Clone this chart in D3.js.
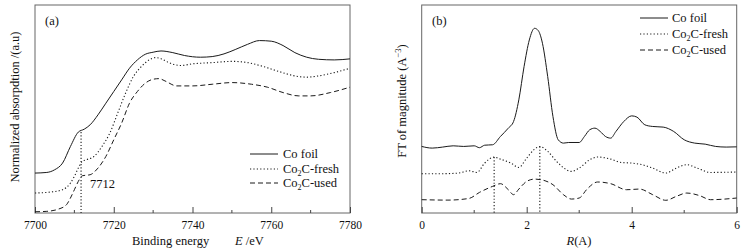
<!DOCTYPE html>
<html><head><meta charset="utf-8">
<script src="https://cdn.jsdelivr.net/npm/d3@7"></script>
<style>body{margin:0;background:#fff}svg{display:block}text{font-family:"Liberation Serif","Times New Roman",serif;fill:#111}</style>
</head><body><svg id="c" width="748" height="251"></svg>
<script>
// Panel (a): XANES
const energyA = [7700,7703,7705,7707,7709,7711,7712.5,7714,7716,7718,7720,7722,7724,7726,7728,7730,7732,7735,7738,7742,7745,7748,7751,7754,7757,7760,7763,7766,7769,7772,7776,7780];
const coFoilA = [19.2,19.5,20.8,24,32,38.9,40.3,42.4,47.2,52.8,58.4,64,69.6,73.6,76.3,77.3,77.9,77.1,75.7,74.9,75.2,76.5,78.7,81.1,82.9,82.6,80.5,77.1,74.9,73.9,73.6,74.1];
const energyFresh = [7700,7704,7707,7709,7710,7711,7712,7713,7715,7717,7719,7721,7723,7725,7727,7729,7730.5,7732,7734,7737,7740,7745,7750,7754,7758,7762,7766,7769,7772,7776,7780];
const freshA = [9.6,10.1,11.2,14.4,17.6,21.6,24.8,25.6,27.2,32,38.4,48,57.6,65.6,70.4,73.6,74.7,74.2,72.3,70.9,71.7,72.3,72.9,72.3,70.4,68,65.9,65.3,65.9,67.5,69.6];
const energyUsed = [7700,7703,7706,7708,7709,7710,7711,7712,7714,7716,7718,7720,7722,7724,7726,7728,7730,7731.5,7733,7736,7740,7745,7750,7755,7759,7763,7767,7770,7775,7780];
const usedA = [0.6,0.8,1.9,4,7.2,11.2,15.2,17.9,18.4,21.6,27.2,35.2,43.2,52.8,58.4,62.4,64.3,64.6,63.5,61.1,61.1,61.9,62.7,61.9,60.5,57.9,56.3,56.3,57.9,60.5];
const ticksA = [7700,7720,7740,7760,7780];
const minorA = [7710,7730,7750,7770];
const edgeA = {e:7711.7, top:38.9, label:"7712"};

// Panel (b): FT-EXAFS
const rFoil = [0,0.2,0.4,0.6,0.8,1.0,1.1,1.2,1.35,1.5,1.65,1.75,1.85,1.95,2.05,2.15,2.22,2.3,2.4,2.5,2.6,2.7,2.8,3.0,3.1,3.2,3.3,3.4,3.5,3.6,3.7,3.85,4.0,4.1,4.25,4.4,4.6,4.8,5.0,5.2,5.4,5.6,5.8,6.0];
const coFoilB = [32,31.2,31.7,32.3,32,32.3,31.4,32.6,32.8,36.8,40.8,44,54.4,70.4,83.2,88.8,87.7,81.6,65.6,46.4,35.2,33.6,33.9,33.9,36.8,40,40.8,39.2,36.8,36,39.2,44,46.7,46.1,42.4,41.6,41.3,39.2,35.2,33.6,33.1,32,31.7,31.8];
const rFresh = [0,0.4,0.7,0.9,1.05,1.2,1.38,1.5,1.7,1.85,2.0,2.15,2.25,2.4,2.6,2.85,3.0,3.2,3.35,3.6,3.8,4.0,4.2,4.4,4.65,4.85,5.05,5.25,5.5,6.0];
const freshB = [18.9,18.9,19.2,20.3,19.5,24,26.9,25.9,24,21.9,26.4,30.7,32,29.6,24,20,21.6,25.6,26.9,25.9,24.3,24,23.2,21.6,19.2,21.6,23.2,21.6,19.5,19.7];
const rUsed = [0,0.5,0.9,1.1,1.35,1.5,1.65,1.75,1.85,2.0,2.15,2.35,2.5,2.7,2.85,3.0,3.15,3.35,3.6,3.9,4.15,4.4,4.65,4.85,5.05,5.3,5.5,6.0];
const usedB = [6.4,6.2,7,9.9,12.8,14.1,11.2,8.8,11.5,15.2,16.3,15.5,13.6,8.8,6.7,7.2,11.5,14.9,14.1,11.2,11.5,8.8,6.1,8,9.6,8.3,6.4,7.2];
const ticksB = [0,2,4,6];
const minorB = [1,3,5];
const markersB = [{r:1.38, top:26.9},{r:2.25, top:32}];

const seriesNames = ["Co foil","Co\u2082C-fresh","Co\u2082C-used"];
const dashes = [null,"1.2,2.2","5,3"];

const svg = d3.select("#c");
const plotTop = 5, plotBottom = 213;
const ink = "#1a1a1a";
const fs = "12.5px";

function panel(x0, x1, xdom, tMajor, tMinor, series) {
  const x = d3.scaleLinear().domain(xdom).range([x0, x1]);
  const y = d3.scaleLinear().domain([0,100]).range([plotBottom, plotTop]);
  const g = svg.append("g");
  g.append("rect").attr("x",x0).attr("y",plotTop).attr("width",x1-x0).attr("height",plotBottom-plotTop)
    .attr("fill","none").attr("stroke","#666").attr("stroke-width",1);
  const ax = d3.axisBottom(x).tickValues(tMajor).tickSize(-6).tickPadding(8).tickFormat(d3.format("d"));
  const axg = g.append("g").attr("transform",`translate(0,${plotBottom})`).call(ax);
  axg.select(".domain").remove();
  axg.selectAll("line").attr("stroke","#444");
  axg.selectAll("text").style("font-size","11.5px").attr("fill","#111").style("font-family","'Liberation Serif',serif");
  g.selectAll(".mn").data(tMinor).join("line").attr("x1",d=>x(d)).attr("x2",d=>x(d))
    .attr("y1",plotBottom).attr("y2",plotBottom-3).attr("stroke","#444");
  const line = d3.line().x(d=>x(d[0])).y(d=>y(d[1])).curve(d3.curveMonotoneX);
  series.forEach((s,i)=>{
    g.append("path").datum(d3.zip(s.x,s.y)).attr("d",line).attr("fill","none")
      .attr("stroke",ink).attr("stroke-width",i===1?1.1:1).attr("stroke-dasharray",dashes[i]);
  });
  return {x,y,g};
}

const A = panel(35, 350, [7700,7780], ticksA, minorA, [
  {x:energyA,y:coFoilA},{x:energyFresh,y:freshA},{x:energyUsed,y:usedA}]);
const B = panel(421.7, 736.7, [0,6], ticksB, minorB, [
  {x:rFoil,y:coFoilB},{x:rFresh,y:freshB},{x:rUsed,y:usedB}]);

// edge marker (a)
A.g.append("line").attr("x1",A.x(edgeA.e)).attr("x2",A.x(edgeA.e)).attr("y1",A.y(edgeA.top)).attr("y2",plotBottom)
  .attr("stroke",ink).attr("stroke-width",1.1).attr("stroke-dasharray","1.2,2");
A.g.append("text").attr("x",A.x(edgeA.e)+9).attr("y",188).style("font-size",fs).text(edgeA.label);
markersB.forEach(m=>{
  B.g.append("line").attr("x1",B.x(m.r)).attr("x2",B.x(m.r)).attr("y1",B.y(m.top)).attr("y2",plotBottom)
    .attr("stroke",ink).attr("stroke-width",1.1).attr("stroke-dasharray","1.2,2");
});

// panel labels
svg.append("text").attr("x",45).attr("y",25).style("font-size",fs).text("(a)");
svg.append("text").attr("x",432).attr("y",25).style("font-size",fs).text("(b)");

// axis titles
svg.append("text").attr("x",132).attr("y",245).style("font-size",fs).text("Binding energy");
const xa = svg.append("text").attr("x",235).attr("y",245).style("font-size",fs);
xa.append("tspan").style("font-style","italic").text("E");
xa.append("tspan").text(" /eV");
const xb = svg.append("text").attr("x",579).attr("y",245).attr("text-anchor","middle").style("font-size",fs);
xb.append("tspan").style("font-style","italic").text("R");
xb.append("tspan").text("(A)");

svg.append("text").attr("transform","translate(19,107) rotate(-90)").attr("text-anchor","middle")
  .style("font-size",fs).text("Normalized absorpdtion /(a.u)");
const yb = svg.append("text").attr("transform","translate(406,101) rotate(-90)").attr("text-anchor","middle").style("font-size",fs);
yb.append("tspan").text("FT of magnitude (A");
yb.append("tspan").attr("dy",-5).style("font-size","8.5px").text("\u22123");
yb.append("tspan").attr("dy",5).text(")");

// legends
function legend(lx, tx, ys) {
  seriesNames.forEach((n,i)=>{
    svg.append("line").attr("x1",lx).attr("x2",lx+28).attr("y1",ys[i]).attr("y2",ys[i])
      .attr("stroke",ink).attr("stroke-width",i===1?1.1:1).attr("stroke-dasharray",dashes[i]);
    const t = svg.append("text").attr("x",tx).attr("y",ys[i]+4).style("font-size",fs);
    if (i===0) t.text(n);
    else {
      t.append("tspan").text("Co");
      t.append("tspan").attr("dy",3).style("font-size","8px").text("2");
      t.append("tspan").attr("dy",-3).text(n.slice(3));
    }
  });
}
legend(250, 283, [154,169,183]);
legend(640, 672, [18,34,50]);
</script></body></html>
